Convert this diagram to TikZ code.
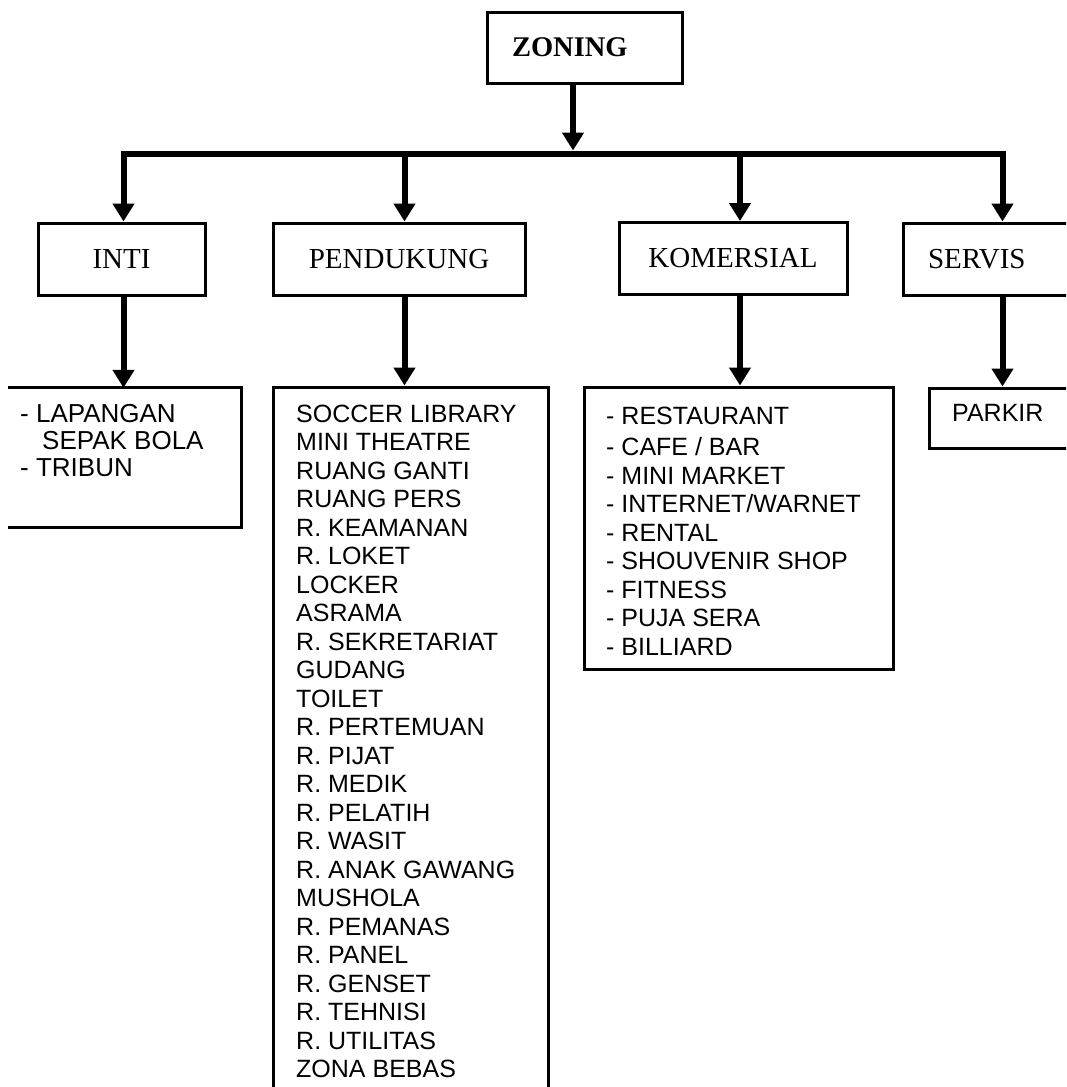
\documentclass[tikz,border=0pt]{standalone}
\usepackage{fontspec}
\setmainfont{Liberation Serif}
\setsansfont{Liberation Sans}
\usetikzlibrary{arrows.meta}

\tikzset{
  boxline/.style={line width=3pt},
  box/.style={draw, boxline, inner sep=0pt, minimum height=72pt},
  zonelabel/.style={font=\fontsize{29}{33}\selectfont},
  listtext/.style={inner sep=0pt, anchor=base west, font=\sffamily\fontsize{25}{28.5}\selectfont},
  bus/.style={line width=6pt, line cap=rect},
  arr/.style={line width=6pt, -{Triangle[width=21pt,length=18pt]}}
}

\begin{document}
\begin{tikzpicture}[x=1pt, y=-1pt]
  \useasboundingbox (0,0) rectangle (1066,1087);
  \clip (0,0) rectangle (1066,1087);

  % root
  \node[box, minimum width=195pt, minimum height=71pt, inner xsep=25pt,
        text width=145pt, align=left,
        font=\bfseries\fontsize{28.5}{32}\selectfont] (zoning) at (584.5,47.5) {ZONING};

  % distribution bar and its drop points
  \coordinate (b0) at (573,153.5);
  \coordinate (b1) at (123.5,153.5);
  \coordinate (b2) at (404.5,153.5);
  \coordinate (b3) at (740,153.5);
  \coordinate (b4) at (1002.5,153.5);

  % zone boxes
  \node[box, zonelabel, minimum width=167pt] (inti) at (121.5,259) {INTI};
  \node[box, zonelabel, minimum width=252pt] (pendukung) at (399,259) {PENDUKUNG};
  \node[box, zonelabel, minimum width=228pt] (komersial) at (733,258.5) {KOMERSIAL};
  \node[box, zonelabel, minimum width=182pt, inner xsep=25pt, text width=132pt,
        align=left] (servis) at (994,259) {SERVIS};

  % room list boxes
  \node[minimum width=233pt, minimum height=139pt, inner sep=0pt] (il) at (124.5,457.5) {};
  \draw[boxline] (il.north west) -| (il.south east) -- (il.south west);
  \node[box, minimum width=275pt, minimum height=713pt] (pl) at (410.5,743.5) {};
  \node[box, minimum width=309pt, minimum height=282pt] (kl) at (738.5,528) {};
  \node[box, minimum width=156pt, minimum height=60pt] (sl) at (1007,418) {};

  % list contents
  \node[listtext, font=\sffamily\fontsize{26}{27}\selectfont] (iltext) at (20,422)
    {\begin{tabular}[t]{@{}l@{}}- LAPANGAN\\\hspace*{22pt}SEPAK BOLA\\- TRIBUN\end{tabular}};
  \node[listtext] (pltext) at (296,422)
    {\begin{tabular}[t]{@{}l@{}}
      SOCCER LIBRARY\\ MINI THEATRE\\ RUANG GANTI\\ RUANG PERS\\ R. KEAMANAN\\
      R. LOKET\\ LOCKER\\ ASRAMA\\ R. SEKRETARIAT\\ GUDANG\\ TOILET\\
      R. PERTEMUAN\\ R. PIJAT\\ R. MEDIK\\ R. PELATIH\\ R. WASIT\\
      R. ANAK GAWANG\\ MUSHOLA\\ R. PEMANAS\\ R. PANEL\\ R. GENSET\\
      R. TEHNISI\\ R. UTILITAS\\ ZONA BEBAS
    \end{tabular}};
  \node[listtext] (kltext) at (606,424)
    {\begin{tabular}[t]{@{}l@{}}
      - RESTAURANT\\[3pt] - CAFE / BAR\\ - MINI MARKET\\ - INTERNET/WARNET\\
      - RENTAL\\ - SHOUVENIR SHOP\\ - FITNESS\\ - PUJA SERA\\ - BILLIARD
    \end{tabular}};
  \node[listtext] (sltext) at (952,421) {PARKIR};

  % connectors
  \draw[arr] (zoning.south -| b0) -- ([yshift=3pt]b0);
  \draw[bus] (b1) -- (b4);
  \draw[arr] (b1) -- (b1 |- inti.north);
  \draw[arr] (b2) -- (b2 |- pendukung.north);
  \draw[arr] (b3) -- (b3 |- komersial.north);
  \draw[arr] (b4) -- (b4 |- servis.north);

  \draw[arr] (b1 |- inti.south) -- (b1 |- il.north);
  \draw[arr] (b2 |- pendukung.south) -- (b2 |- pl.north);
  \draw[arr] (b3 |- komersial.south) -- (b3 |- kl.north);
  \draw[arr] (b4 |- servis.south) -- (b4 |- sl.north);
\end{tikzpicture}
\end{document}
